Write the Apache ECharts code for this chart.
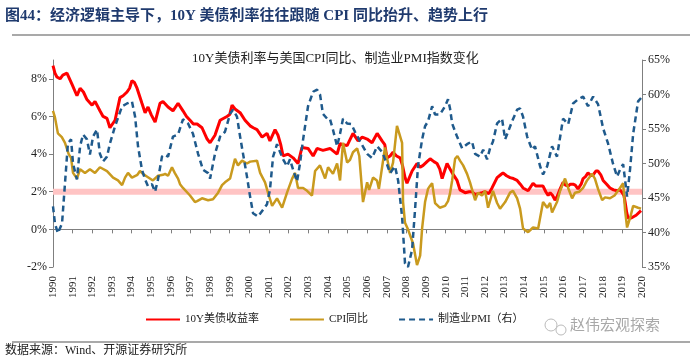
<!DOCTYPE html>
<html><head><meta charset="utf-8">
<script src="https://cdn.jsdelivr.net/npm/echarts@6/dist/echarts.min.js"></script>
<style>html,body{margin:0;padding:0;background:#fff}#c{width:692px;height:361px}</style>
</head><body><div id="c"></div>
<script>
const yearTicks = [1990, 2020];
const leftTicks = [-2, 0, 2, 4, 6, 8];
const seriesNames = ['10Y美债收益率', 'CPI同比', '制造业PMI（右）'];
const yield10y = [[1990.0,8.7],[1990.1,8.3],[1990.2,8.1],[1990.36,8.0],[1990.5,8.2],[1990.71,8.3],[1990.97,7.7],[1991.22,7.1],[1991.38,7.5],[1991.55,7.3],[1991.73,6.9],[1991.99,6.6],[1992.14,6.8],[1992.39,6.3],[1992.55,6.0],[1992.75,5.9],[1992.9,5.4],[1993.16,5.8],[1993.41,7.0],[1993.57,7.1],[1993.77,7.3],[1993.9,7.5],[1994.02,7.9],[1994.15,7.8],[1994.28,7.5],[1994.53,6.7],[1994.69,6.2],[1994.84,6.5],[1995.0,6.1],[1995.2,5.7],[1995.45,6.7],[1995.6,6.8],[1995.86,6.5],[1996.11,6.3],[1996.37,6.7],[1996.62,6.3],[1996.8,6.0],[1996.98,5.8],[1997.15,5.6],[1997.34,5.6],[1997.59,5.4],[1997.85,4.8],[1998.0,4.6],[1998.25,5.0],[1998.51,5.8],[1998.86,6.0],[1999.0,6.1],[1999.12,6.6],[1999.27,6.4],[1999.53,6.2],[1999.78,5.8],[2000.04,5.5],[2000.2,5.4],[2000.39,5.3],[2000.65,4.9],[2000.9,5.1],[2001.05,4.7],[2001.31,5.3],[2001.46,5.0],[2001.6,4.5],[2001.72,3.9],[2001.97,4.0],[2002.23,3.8],[2002.48,3.5],[2002.68,4.35],[2002.99,4.3],[2003.25,3.9],[2003.45,4.3],[2003.75,4.2],[2004.11,4.3],[2004.47,4.0],[2004.62,4.55],[2004.98,4.45],[2005.28,5.1],[2005.54,4.7],[2005.75,4.9],[2006.0,4.8],[2006.25,4.6],[2006.51,5.1],[2006.76,4.7],[2006.9,4.5],[2007.01,3.8],[2007.17,3.9],[2007.32,4.1],[2007.5,3.9],[2007.68,3.8],[2007.8,3.4],[2007.93,2.75],[2008.03,2.45],[2008.29,3.1],[2008.54,3.5],[2008.7,3.3],[2008.85,3.4],[2009.05,3.6],[2009.21,3.75],[2009.4,3.6],[2009.56,3.5],[2009.7,3.2],[2009.82,2.7],[2010.07,3.5],[2010.33,3.0],[2010.58,2.6],[2010.73,2.1],[2010.99,1.95],[2011.2,2.0],[2011.34,2.0],[2011.5,1.85],[2011.65,1.9],[2011.85,1.95],[2012.01,2.0],[2012.2,1.9],[2012.36,2.2],[2012.5,2.5],[2012.62,2.75],[2012.8,2.9],[2012.92,3.0],[2013.1,2.85],[2013.28,2.75],[2013.45,2.7],[2013.64,2.6],[2013.8,2.4],[2013.94,2.2],[2014.2,2.05],[2014.45,2.45],[2014.6,2.3],[2014.71,2.3],[2014.96,2.3],[2015.1,2.0],[2015.22,1.8],[2015.32,1.95],[2015.45,1.8],[2015.57,1.55],[2015.7,1.8],[2015.83,2.15],[2015.98,2.5],[2016.1,2.35],[2016.24,2.3],[2016.35,2.4],[2016.49,2.4],[2016.6,2.35],[2016.74,2.15],[2016.9,2.4],[2017.0,2.7],[2017.12,2.8],[2017.25,3.0],[2017.4,2.85],[2017.51,2.9],[2017.65,3.1],[2017.76,3.1],[2017.9,2.9],[2018.02,2.6],[2018.2,2.4],[2018.37,2.2],[2018.55,2.1],[2018.73,2.05],[2018.88,2.1],[2018.99,1.95],[2019.08,1.8],[2019.14,1.45],[2019.22,0.9],[2019.29,0.6],[2019.45,0.6],[2019.55,0.65],[2019.7,0.75],[2019.8,0.85],[2019.95,1.0]];
const cpiYoY = [[1990.0,6.3],[1990.1,5.95],[1990.25,5.1],[1990.45,4.9],[1990.61,4.6],[1990.8,4.0],[1990.92,3.8],[1991.02,3.0],[1991.22,2.7],[1991.38,3.2],[1991.63,3.0],[1991.88,3.2],[1992.14,3.0],[1992.39,3.3],[1992.75,3.1],[1993.06,2.75],[1993.31,2.6],[1993.52,2.35],[1993.67,2.75],[1993.82,3.0],[1994.02,2.75],[1994.3,2.9],[1994.43,3.1],[1994.58,2.95],[1994.8,2.8],[1995.09,2.6],[1995.35,2.85],[1995.6,2.9],[1995.71,2.95],[1995.86,2.85],[1996.06,3.3],[1996.2,3.0],[1996.37,2.7],[1996.47,2.4],[1996.62,2.2],[1996.98,1.8],[1997.23,1.45],[1997.34,1.5],[1997.59,1.65],[1997.9,1.55],[1998.15,1.6],[1998.41,1.95],[1998.61,2.35],[1998.76,2.5],[1999.02,2.7],[1999.27,3.75],[1999.42,3.4],[1999.63,3.65],[1999.88,3.5],[2000.04,3.6],[2000.39,3.65],[2000.55,3.0],[2000.8,2.5],[2000.95,1.95],[2001.16,1.25],[2001.41,1.65],[2001.67,1.15],[2001.92,1.95],[2002.18,2.7],[2002.33,3.0],[2002.48,2.2],[2002.74,2.2],[2002.94,2.05],[2003.19,1.8],[2003.35,3.1],[2003.6,3.4],[2003.86,2.7],[2004.01,3.3],[2004.26,2.95],[2004.47,3.5],[2004.62,2.6],[2004.77,4.6],[2004.98,3.55],[2005.13,3.7],[2005.28,4.1],[2005.49,4.3],[2005.6,3.9],[2005.79,1.45],[2006.0,2.5],[2006.1,2.1],[2006.3,2.75],[2006.5,2.6],[2006.6,2.15],[2006.91,4.35],[2007.01,3.8],[2007.17,3.0],[2007.32,3.55],[2007.52,5.5],[2007.58,5.6],[2007.78,4.6],[2007.83,1.45],[2007.93,0.35],[2008.08,0.0],[2008.34,-0.75],[2008.54,-1.9],[2008.7,-1.4],[2008.8,0.05],[2008.95,1.45],[2009.1,2.15],[2009.2,2.3],[2009.31,2.45],[2009.46,1.4],[2009.7,1.15],[2009.97,1.25],[2010.12,1.5],[2010.22,1.9],[2010.33,2.6],[2010.48,3.75],[2010.6,3.9],[2010.73,3.65],[2010.89,3.4],[2011.09,2.95],[2011.24,2.5],[2011.5,1.55],[2011.65,1.95],[2011.85,1.8],[2012.01,2.05],[2012.16,1.15],[2012.41,2.05],[2012.62,1.4],[2012.77,1.1],[2013.03,1.45],[2013.28,1.95],[2013.43,2.05],[2013.64,1.65],[2013.79,1.1],[2013.94,0.05],[2014.2,-0.15],[2014.45,0.1],[2014.71,0.05],[2014.96,1.45],[2015.17,1.15],[2015.32,1.4],[2015.42,0.9],[2015.67,1.45],[2015.83,2.05],[2016.08,2.7],[2016.24,2.2],[2016.44,1.65],[2016.59,1.95],[2016.8,2.0],[2017.0,2.2],[2017.2,2.6],[2017.46,2.95],[2017.6,2.7],[2017.76,2.15],[2017.97,1.55],[2018.12,1.7],[2018.37,1.65],[2018.6,1.8],[2018.88,2.2],[2019.04,2.45],[2019.14,1.0],[2019.24,0.1],[2019.39,0.6],[2019.55,1.25],[2019.8,1.15],[2019.95,1.1]];
const pmi = [[1990.0,43.8],[1990.1,41.3],[1990.25,39.9],[1990.46,41.3],[1990.61,47.1],[1990.76,52.9],[1990.92,53.5],[1991.02,50.0],[1991.22,47.7],[1991.38,52.5],[1991.53,54.2],[1991.73,53.5],[1991.88,51.3],[1992.04,53.9],[1992.24,54.9],[1992.39,51.4],[1992.55,50.3],[1992.75,51.0],[1992.9,52.9],[1993.16,55.4],[1993.52,58.3],[1993.77,58.7],[1994.02,59.0],[1994.18,56.8],[1994.33,52.5],[1994.53,49.1],[1994.69,47.7],[1994.84,46.7],[1995.04,47.0],[1995.2,45.9],[1995.35,47.7],[1995.55,51.0],[1995.7,51.3],[1995.86,51.0],[1996.11,53.9],[1996.37,54.2],[1996.62,56.4],[1996.88,55.8],[1997.13,54.3],[1997.39,51.4],[1997.64,49.1],[1997.9,48.6],[1998.0,47.8],[1998.25,51.4],[1998.51,53.9],[1998.76,54.6],[1999.02,57.2],[1999.17,57.8],[1999.37,56.8],[1999.53,53.9],[1999.68,51.4],[1999.88,48.1],[2000.04,45.2],[2000.19,42.8],[2000.44,42.3],[2000.7,43.3],[2000.9,44.1],[2001.05,46.2],[2001.21,51.0],[2001.41,52.8],[2001.56,51.7],[2001.72,50.6],[2001.92,49.6],[2002.07,50.6],[2002.23,49.1],[2002.43,47.4],[2002.58,50.0],[2002.74,53.5],[2002.99,58.3],[2003.25,60.4],[2003.45,60.7],[2003.6,60.0],[2003.75,57.2],[2003.96,56.5],[2004.1,56.5],[2004.26,54.9],[2004.47,52.5],[2004.62,54.3],[2004.77,56.5],[2004.98,55.8],[2005.2,55.7],[2005.38,54.6],[2005.64,53.2],[2006.0,51.4],[2006.25,50.8],[2006.51,52.5],[2006.76,51.7],[2007.01,49.9],[2007.17,48.6],[2007.42,49.6],[2007.58,47.5],[2007.78,42.3],[2007.93,35.5],[2008.08,35.0],[2008.29,37.5],[2008.44,43.3],[2008.59,49.6],[2008.8,53.5],[2008.95,55.4],[2009.1,56.1],[2009.31,58.3],[2009.46,57.1],[2009.71,57.1],[2009.97,58.3],[2010.12,59.3],[2010.22,58.0],[2010.33,55.8],[2010.58,53.9],[2010.84,52.2],[2011.09,52.8],[2011.34,53.2],[2011.5,51.4],[2011.75,51.0],[2011.91,52.0],[2012.11,50.6],[2012.26,52.2],[2012.41,53.2],[2012.62,55.8],[2012.87,56.5],[2013.03,53.5],[2013.18,54.6],[2013.38,56.1],[2013.64,57.8],[2013.79,58.0],[2013.94,56.8],[2014.15,53.9],[2014.4,52.0],[2014.55,52.5],[2014.81,49.6],[2014.96,48.4],[2015.17,49.6],[2015.42,52.5],[2015.67,51.0],[2015.98,56.5],[2016.24,55.7],[2016.49,58.7],[2016.74,59.3],[2017.0,59.7],[2017.25,58.3],[2017.51,59.7],[2017.76,58.6],[2018.02,55.1],[2018.27,52.9],[2018.53,49.9],[2018.73,48.1],[2018.88,49.1],[2019.04,49.9],[2019.24,45.2],[2019.39,49.1],[2019.55,54.3],[2019.8,59.0],[2019.95,59.5]];
const bandRange = [1.84, 2.16];

const serif = '"Liberation Serif","Noto Sans CJK SC",serif';
const chart = echarts.init(document.getElementById('c'), null, {renderer: 'canvas'});
const axisGray = '#7f7f7f';
chart.setOption({
  animation: false,
  backgroundColor: '#fff',
  title: {
    text: '10Y美债利率与美国CPI同比、制造业PMI指数变化',
    left: 187, top: 47,
    textStyle: {fontFamily: serif, fontSize: 13, fontWeight: 'normal', color: '#222'}
  },
  legend: {
    left: 140, top: 309, itemWidth: 34, itemHeight: 10, itemGap: 30,
    itemStyle: {opacity: 0},
    textStyle: {fontFamily: serif, fontSize: 11, color: '#222'},
    data: seriesNames
  },
  grid: {left: 53, right: 50, top: 60, bottom: 94},
  xAxis: [{
    type: 'value', min: yearTicks[0], max: yearTicks[1], interval: 1, position: 'bottom',
    axisLine: {show: true, onZero: true, onZeroAxisIndex: 0, lineStyle: {color: axisGray, width: 1}},
    axisTick: {show: true, length: 4, lineStyle: {color: axisGray}},
    axisLabel: {show: false}, splitLine: {show: false}
  }, {
    type: 'value', min: yearTicks[0], max: yearTicks[1], interval: 1, position: 'bottom',
    axisLine: {show: false, onZero: false}, axisTick: {show: false}, splitLine: {show: false},
    axisLabel: {rotate: 90, margin: 9, fontFamily: serif, fontSize: 11, color: '#222', formatter: v => String(v)}
  }],
  yAxis: [{
    type: 'value', min: -2, max: 9, interval: 2, position: 'left',
    axisLine: {show: true, lineStyle: {color: axisGray}},
    axisTick: {show: true, length: 4, customValues: leftTicks, lineStyle: {color: axisGray}},
    axisLabel: {customValues: leftTicks, fontFamily: serif, fontSize: 12, color: '#222', margin: 6,
      formatter: v => v > 8 ? '' : v + '%'},
    splitLine: {show: false}
  }, {
    type: 'value', min: 35, max: 65, interval: 5, position: 'right',
    axisLine: {show: true, lineStyle: {color: axisGray}},
    axisTick: {show: true, length: 4, lineStyle: {color: axisGray}},
    axisLabel: {fontFamily: serif, fontSize: 12, color: '#222', margin: 6, formatter: v => v + '%'},
    splitLine: {show: false}
  }],
  series: [{
    name: seriesNames[0], type: 'line', xAxisIndex: 0, yAxisIndex: 0, data: yield10y,
    symbol: 'none', z: 3, lineStyle: {color: '#ff0000', width: 3}, itemStyle: {color: '#ff0000'},
    markArea: {silent: true, itemStyle: {color: '#ffc4c4'}, z: 1,
      data: [[{xAxis: yearTicks[0], yAxis: bandRange[0]}, {xAxis: yearTicks[1], yAxis: bandRange[1]}]]}
  }, {
    name: seriesNames[1], type: 'line', xAxisIndex: 0, yAxisIndex: 0, data: cpiYoY,
    symbol: 'none', z: 4, lineStyle: {color: '#c99a1e', width: 2.5}, itemStyle: {color: '#c99a1e'}
  }, {
    name: seriesNames[2], type: 'line', xAxisIndex: 0, yAxisIndex: 1, data: pmi,
    symbol: 'none', z: 5, lineStyle: {color: '#1f5a8c', width: 2.5, type: [6, 4]}, itemStyle: {color: '#1f5a8c'}
  }],
  graphic: [
    {type: 'text', left: 5, top: 9, style: {text: '图44：经济逻辑主导下，10Y 美债利率往往跟随 CPI 同比抬升、趋势上行',
      font: 'bold 15px ' + serif, fill: '#1f3a6e'}},
    {type: 'line', shape: {x1: 12, y1: 35, x2: 690, y2: 35}, style: {stroke: '#8c8c8c', lineWidth: 1.5}},
    {type: 'line', shape: {x1: 12, y1: 342, x2: 690, y2: 342}, style: {stroke: '#8c8c8c', lineWidth: 1.5}},
    {type: 'text', left: 5, top: 345, style: {text: '数据来源：Wind、开源证券研究所', font: '12px ' + serif, fill: '#222'}},
    {type: 'circle', shape: {cx: 551, cy: 325, r: 6}, style: {fill: 'none', stroke: '#bbb', lineWidth: 1}},
    {type: 'circle', shape: {cx: 561, cy: 330, r: 5}, style: {fill: '#fff', stroke: '#bbb', lineWidth: 1}},
    {type: 'text', left: 570, top: 317, style: {text: '赵伟宏观探索', font: '15px "Noto Sans CJK SC",sans-serif', fill: '#a8a8a8'}}
  ]
});
</script>
</body></html>
